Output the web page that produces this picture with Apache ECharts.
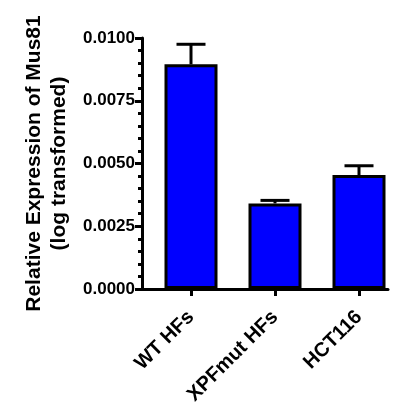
<!DOCTYPE html>
<html>
<head>
<meta charset="utf-8">
<script src="https://cdn.jsdelivr.net/npm/echarts@6/dist/echarts.min.js"></script>
<style>
  html, body { margin: 0; padding: 0; background: #fff; }
  #chart { width: 402px; height: 415px; }
</style>
</head>
<body>
<div id="chart"></div>
<script>
// values
const categories = ['WT HFs', 'XPFmut HFs', 'HCT116'];
const means = [0.00895, 0.00341, 0.00454];
const upperErr = [0.00975, 0.00353, 0.00491];
const yTicks = { min: 0, max: 0.01, interval: 0.0025 };

const font = 'Liberation Sans, Arial, sans-serif';
const chart = echarts.init(document.getElementById('chart'));

chart.setOption({
  animation: false,
  backgroundColor: '#fff',
  grid: [
    // bars sit in this one (categories spaced like the reference)
    { left: 149, width: 252, top: 38, height: 251 },
    // the visible axes live here
    { left: 142, width: 246, top: 38, height: 251 }
  ],
  xAxis: [
    {
      type: 'category', gridIndex: 0, data: categories,
      axisLine: { show: false },
      axisTick: { show: true, alignWithLabel: true, length: 7, lineStyle: { color: '#000', width: 3 } },
      axisLabel: { rotate: 45, margin: 25, color: '#000', fontFamily: font, fontWeight: 'bold', fontSize: 20 }
    },
    {
      type: 'value', gridIndex: 1, min: 0, max: 1,
      axisLine: { show: true, lineStyle: { color: '#000', width: 3 } },
      axisTick: { show: false }, axisLabel: { show: false }, splitLine: { show: false }
    }
  ],
  yAxis: [
    {
      type: 'value', gridIndex: 1, min: yTicks.min, max: yTicks.max, interval: yTicks.interval,
      name: 'Relative Expression of Mus81\n(log transformed)',
      nameLocation: 'middle', nameRotate: 90, nameGap: 66,
      nameTextStyle: { color: '#000', fontFamily: font, fontWeight: 'bold', fontSize: 21, lineHeight: 25 },
      axisLine: { show: true, lineStyle: { color: '#000', width: 3 } },
      axisTick: { show: true, length: 7, lineStyle: { color: '#000', width: 3 } },
      minorTick: { show: true, splitNumber: 5, length: 4, lineStyle: { color: '#000', width: 3 } },
      axisLabel: { color: '#000', fontFamily: font, fontWeight: 'bold', fontSize: 17, margin: 7,
        formatter: v => v.toFixed(4) },
      splitLine: { show: false }
    },
    {
      type: 'value', gridIndex: 0, min: yTicks.min, max: yTicks.max, show: false
    }
  ],
  series: [
    {
      type: 'bar', xAxisIndex: 0, yAxisIndex: 1, data: means, barWidth: 53,
      itemStyle: { color: '#0000ff', borderColor: '#000', borderWidth: 3 },
      z: 2
    },
    {
      type: 'custom', xAxisIndex: 0, yAxisIndex: 1, z: 1,
      data: categories.map((c, i) => [i, means[i], upperErr[i]]),
      renderItem: (params, api) => {
        const base = api.coord([api.value(0), api.value(1)]);
        const top = api.coord([api.value(0), api.value(2)]);
        const half = 14.5;
        const style = { stroke: '#000', lineWidth: 3 };
        return {
          type: 'group',
          children: [
            { type: 'line', shape: { x1: base[0], y1: base[1], x2: top[0], y2: top[1] }, style },
            { type: 'line', shape: { x1: top[0] - half, y1: top[1], x2: top[0] + half, y2: top[1] }, style }
          ]
        };
      }
    }
  ]
});
</script>
</body>
</html>
